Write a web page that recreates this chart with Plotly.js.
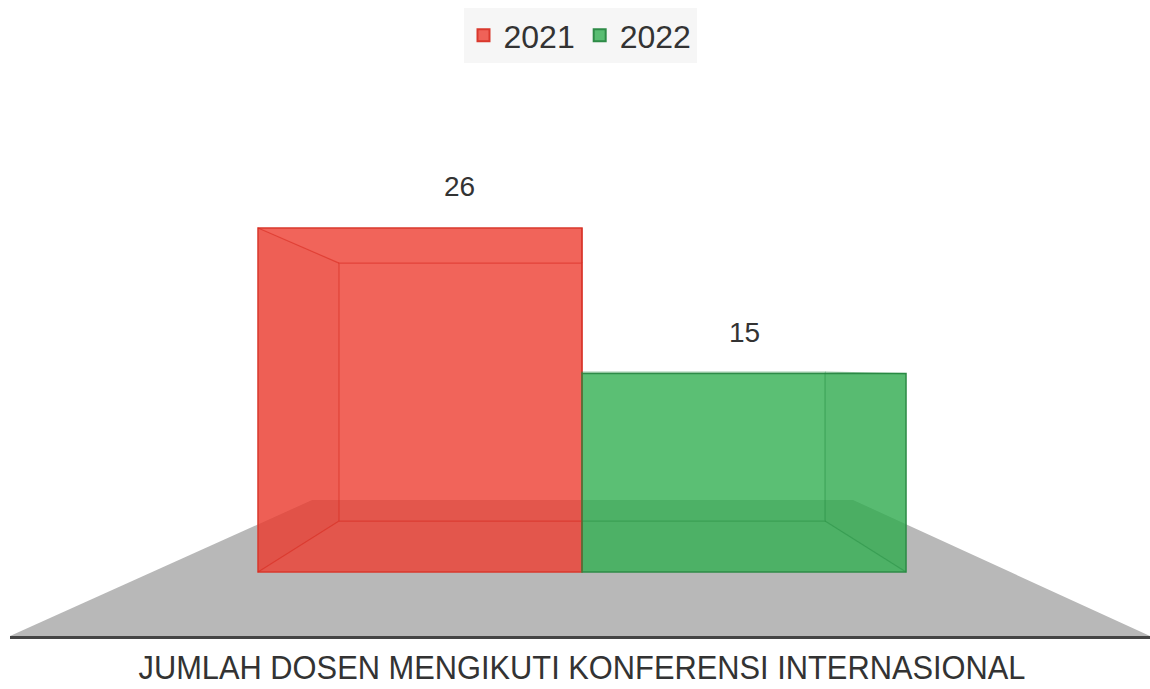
<!DOCTYPE html>
<html>
<head>
<meta charset="utf-8">
<script src="https://cdn.plot.ly/plotly-3.0.1.min.js"></script>
<style>html,body{margin:0;padding:0;background:#fff;}#chart{width:1150px;height:689px;}</style>
</head>
<body>
<div id="chart"></div>
<script>
// ---- data ----
const categories = ['JUMLAH DOSEN MENGIKUTI KONFERENSI INTERNASIONAL'];
const seriesNames = ['2021', '2022'];
const values2021 = [26];
const values2022 = [15];

// ---- style ----
const faceColors = ['rgba(238,61,49,0.8)', 'rgba(50,175,81,0.8)'];
const edgeColors = ['#d9382d', '#2e8b47'];
const innerEdge = ['rgba(215,40,30,0.55)', 'rgba(35,140,65,0.45)'];
const sideFill = ['rgba(200,40,30,0.07)', 'rgba(30,120,50,0.05)'];
const depthK = 0.75;      // perspective shrink of the back face
const vanishY = 15.4;     // vanishing height (y units)
const vanishX = 0;

const seriesValues = [values2021, values2022];
const nSeries = seriesValues.length;
const barW = 1 / nSeries;

function back(x, y) {
  return [vanishX + (x - vanishX) * depthK, vanishY + (y - vanishY) * depthK];
}

const traces = [];
seriesValues.forEach((vals, i) => {
  traces.push({
    type: 'bar', name: seriesNames[i], x: categories.map((c, j) => j), y: vals,
    marker: {color: faceColors[i], line: {color: edgeColors[i], width: 1.5}},
    hoverinfo: 'name+y'
  });
});
seriesValues.forEach((vals, i) => {
  vals.forEach((v, j) => {
    const x0 = j - 0.5 + i * barW, x1 = x0 + barW;
    const F = [[x0, 0], [x1, 0], [x1, v], [x0, v]];
    const B = F.map(p => back(p[0], p[1]));
    const xs = [], ys = [];
    B.concat([B[0]]).forEach(p => { xs.push(p[0]); ys.push(p[1]); });
    xs.push(null); ys.push(null);
    for (let k = 0; k < 4; k++) {
      xs.push(F[k][0], B[k][0], null);
      ys.push(F[k][1], B[k][1], null);
    }
    traces.push({type: 'scatter', mode: 'lines', x: xs, y: ys, showlegend: false, hoverinfo: 'skip',
      line: {color: innerEdge[i], width: 1.2}});
    const side = i === 0 ? [F[0], F[3], B[3], B[0], F[0]] : [F[1], F[2], B[2], B[1], F[1]];
    traces.push({type: 'scatter', mode: 'none', fill: 'toself', fillcolor: sideFill[i],
      x: side.map(p => p[0]), y: side.map(p => p[1]), showlegend: false, hoverinfo: 'skip'});
  });
});

const labelShift = [39, 0];
const annotations = [];
seriesValues.forEach((vals, i) => {
  vals.forEach((v, j) => {
    annotations.push({x: j - 0.5 + (i + 0.5) * barW, y: v, xref: 'x', yref: 'y', text: String(v),
      showarrow: false, yanchor: 'bottom', yshift: 24, xshift: labelShift[i],
      font: {family: 'Liberation Sans, Arial, sans-serif', size: 28, color: '#333'}});
  });
});

const layout = {
  width: 1150, height: 689,
  margin: {l: 10, r: 0, t: 80, b: 53},
  paper_bgcolor: '#fff', plot_bgcolor: 'rgba(0,0,0,0)',
  barmode: 'group', bargap: 0, bargroupgap: 0,
  showlegend: true,
  legend: {orientation: 'h', x: 0.5, xanchor: 'center', y: 1.1295, yanchor: 'top',
    bgcolor: '#f6f6f6', font: {family: 'Liberation Sans, Arial, sans-serif', size: 32, color: '#333'},
    itemsizing: 'constant', traceorder: 'normal'},
  xaxis: {range: [-0.8827, 0.8765], tickvals: categories.map((c, j) => j), ticktext: categories,
    showgrid: false, zeroline: false, showline: true, linecolor: '#444', linewidth: 3,
    ticks: '', tickfont: {family: 'Liberation Sans, Arial, sans-serif', size: 33, color: '#333'},
    fixedrange: true},
  yaxis: {range: [-4.84, 37.19], visible: false, showgrid: false, zeroline: false, fixedrange: true},
  shapes: [{type: 'path', xref: 'paper', yref: 'paper', layer: 'below',
    path: 'M0,0 L0.265,0.2446 L0.7395,0.2446 L1,0 Z', fillcolor: '#b8b8b8', line: {width: 0}}],
  annotations: annotations
};

Plotly.newPlot('chart', traces, layout, {displayModeBar: false, staticPlot: true}).then(gd => {
  // condensed look of the category label, as in the reference
  gd.querySelectorAll('.xtick text').forEach(t => {
    t.setAttribute('textLength', '887');
    t.setAttribute('lengthAdjust', 'spacingAndGlyphs');
  });
});
</script>
</body>
</html>
